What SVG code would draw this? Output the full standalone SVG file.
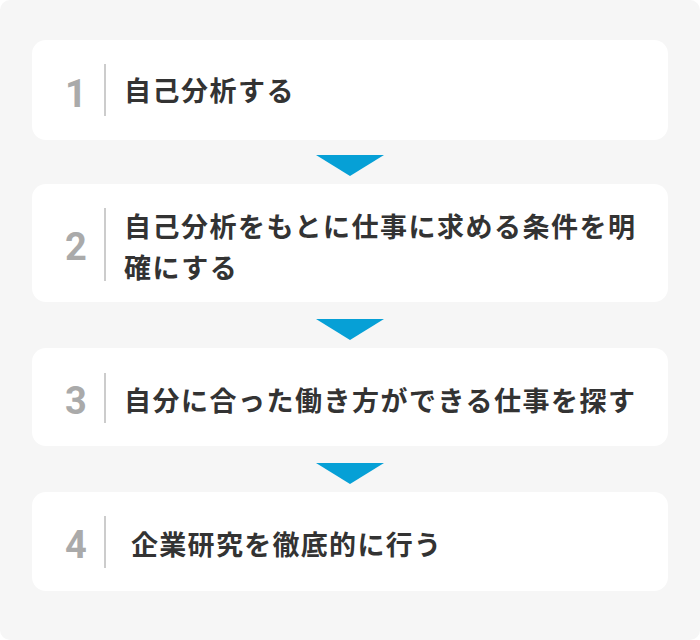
<svg xmlns="http://www.w3.org/2000/svg" width="700" height="640" viewBox="0 0 700 640">
<style>
.card{fill:#ffffff}
.num{font-family:Roboto,"Noto Sans",sans-serif;font-weight:700;font-size:38px;fill:#aaaaaa;text-anchor:middle}
.div{stroke:#cccccc;stroke-width:2}
.txt{font-family:"Noto Sans CJK JP","Noto Sans",sans-serif;font-weight:700;font-size:27px;fill:#333333;letter-spacing:1.5px}
.arrow{fill:#06a0d6}
</style>
<rect x="0" y="0" width="700" height="640" rx="10" fill="#f6f6f6"/>
<g id="connectors">
<polygon class="arrow" points="316,155 384,155 350,176"/>
<polygon class="arrow" points="316,319 384,319 350,340"/>
<polygon class="arrow" points="316,463 384,463 350,484"/>
</g>
<g id="step1">
<rect class="card" x="32" y="40" width="636" height="100" rx="14"/>
<text class="num" x="76" y="107">1</text>
<line class="div" x1="105" y1="64" x2="105" y2="116"/>
<text class="txt" x="124" y="101">自己分析する</text>
</g>
<g id="step2">
<rect class="card" x="32" y="184" width="636" height="118" rx="14"/>
<text class="num" x="76" y="260">2</text>
<line class="div" x1="105" y1="208" x2="105" y2="281"/>
<text class="txt" x="124" y="237">自己分析をもとに仕事に求める条件を明</text>
<text class="txt" x="124" y="278">確にする</text>
</g>
<g id="step3">
<rect class="card" x="32" y="348" width="636" height="98" rx="14"/>
<text class="num" x="76" y="414">3</text>
<line class="div" x1="105" y1="373" x2="105" y2="423"/>
<text class="txt" x="124" y="411">自分に合った働き方ができる仕事を探す</text>
</g>
<g id="step4">
<rect class="card" x="32" y="492" width="636" height="99" rx="14"/>
<text class="num" x="76" y="558">4</text>
<line class="div" x1="105" y1="516" x2="105" y2="568"/>
<text class="txt" x="131" y="555" style="letter-spacing:1.3px">企業研究を徹底的に行う</text>
</g>
</svg>
